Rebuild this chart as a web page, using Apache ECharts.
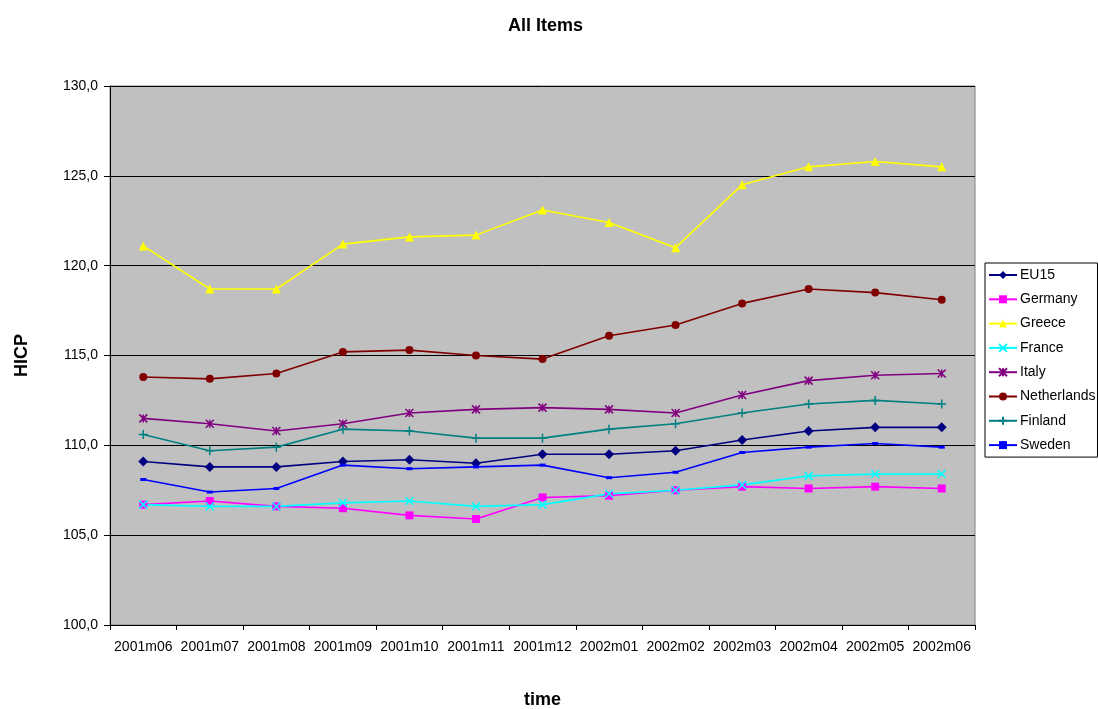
<!DOCTYPE html>
<html>
<head>
<meta charset="utf-8">
<script src="https://cdn.jsdelivr.net/npm/echarts@6/dist/echarts.min.js"></script>
<style>
  html, body { margin: 0; padding: 0; background: #fff; }
  #chart { width: 1098px; height: 709px; }
</style>
</head>
<body>
<div id="chart"></div>
<script>
// HICP, all items, monthly index values
const months = ['2001m06','2001m07','2001m08','2001m09','2001m10','2001m11','2001m12',
                '2002m01','2002m02','2002m03','2002m04','2002m05','2002m06'];

const eu15        = [109.1,108.8,108.8,109.1,109.2,109.0,109.5,109.5,109.7,110.3,110.8,111.0,111.0];
const germany     = [106.7,106.9,106.6,106.5,106.1,105.9,107.1,107.2,107.5,107.7,107.6,107.7,107.6];
const greece      = [121.1,118.7,118.7,121.2,121.6,121.7,123.1,122.4,121.0,124.5,125.5,125.8,125.5];
const france      = [106.7,106.6,106.6,106.8,106.9,106.6,106.7,107.3,107.5,107.8,108.3,108.4,108.4];
const italy       = [111.5,111.2,110.8,111.2,111.8,112.0,112.1,112.0,111.8,112.8,113.6,113.9,114.0];
const netherlands = [113.8,113.7,114.0,115.2,115.3,115.0,114.8,116.1,116.7,117.9,118.7,118.5,118.1];
const finland     = [110.6,109.7,109.9,110.9,110.8,110.4,110.4,110.9,111.2,111.8,112.3,112.5,112.3];
const sweden      = [108.1,107.4,107.6,108.9,108.7,108.8,108.9,108.2,108.5,109.6,109.9,110.1,109.9];

const FONT = 'Liberation Sans, Arial, sans-serif';
const SYM_X    = 'path://M0,0L10,10M10,0L0,10';
const SYM_STAR = 'path://M0,0L10,10M10,0L0,10M5,0L5,10';
const SYM_PLUS = 'path://M5,0L5,10M0,5L10,5';

function mk(name, data, color, symbol, size, stroked) {
  return {
    name, type: 'line', data, symbol, symbolSize: size,
    lineStyle: { color, width: 1.6 },
    itemStyle: stroked
      ? { color: 'transparent', borderColor: color, borderWidth: 1.5 }
      : { color, borderColor: color, borderWidth: 0 },
    emphasis: { disabled: true },
    animation: false
  };
}

const series = [
  mk('EU15', eu15, '#000080', 'diamond', 10, false),
  mk('Germany', germany, '#FF00FF', 'rect', 8, false),
  mk('Greece', greece, '#FFFF00', 'triangle', 9, false),
  mk('France', france, '#00FFFF', SYM_X, 8, true),
  mk('Italy', italy, '#800080', SYM_STAR, 8, true),
  mk('Netherlands', netherlands, '#800000', 'circle', 8, false),
  mk('Finland', finland, '#008080', SYM_PLUS, 9, true),
  mk('Sweden', sweden, '#0000FF', 'rect', [6, 3], false)
];

const chart = echarts.init(document.getElementById('chart'), null, { renderer: 'canvas' });
chart.setOption({
  backgroundColor: '#ffffff',
  textStyle: { fontFamily: FONT },
  title: {
    text: 'All Items', left: 503, top: 12,
    textStyle: { fontSize: 18, fontWeight: 'bold', color: '#000', fontFamily: FONT }
  },
  legend: {
    orient: 'vertical', left: 985, top: 263,
    backgroundColor: '#fff', borderColor: '#000', borderWidth: 1,
    padding: [5, 2, 5, 3], itemGap: 10.3, itemWidth: 28, itemHeight: 10,
    textStyle: { fontSize: 14, lineHeight: 14, color: '#000', padding: [0, 0, 0, -2], fontFamily: FONT },
    data: series.map(s => s.name)
  },
  grid: { left: 110, right: 123, top: 86, bottom: 84, show: true,
          containLabel: false, outerBoundsMode: 'none',
          backgroundColor: '#C0C0C0', borderColor: '#808080', borderWidth: 1 },
  xAxis: {
    type: 'category', data: months, boundaryGap: true,
    name: 'time', nameLocation: 'middle', nameGap: 66,
    nameTextStyle: { fontSize: 18, fontWeight: 'bold', color: '#000', fontFamily: FONT },
    axisLine: { lineStyle: { color: '#000' } },
    axisTick: { show: true, interval: 0, length: 5, lineStyle: { color: '#000' } },
    axisLabel: { interval: 0, hideOverlap: false, fontSize: 14, color: '#000', margin: 15, fontFamily: FONT }
  },
  yAxis: {
    type: 'value', min: 100, max: 130, interval: 5,
    name: 'HICP', nameLocation: 'middle', nameGap: 79, nameRotate: 90,
    nameTextStyle: { fontSize: 18, fontWeight: 'bold', color: '#000', fontFamily: FONT },
    axisLine: { show: true, lineStyle: { color: '#000' } },
    axisTick: { show: true, length: 6, lineStyle: { color: '#000' } },
    axisLabel: { fontSize: 14, color: '#000', margin: 12, fontFamily: FONT,
                 formatter: v => v.toFixed(1).replace('.', ',') },
    splitLine: { show: true, lineStyle: { color: '#000', width: 1 } }
  },
  series
});
</script>
</body>
</html>
